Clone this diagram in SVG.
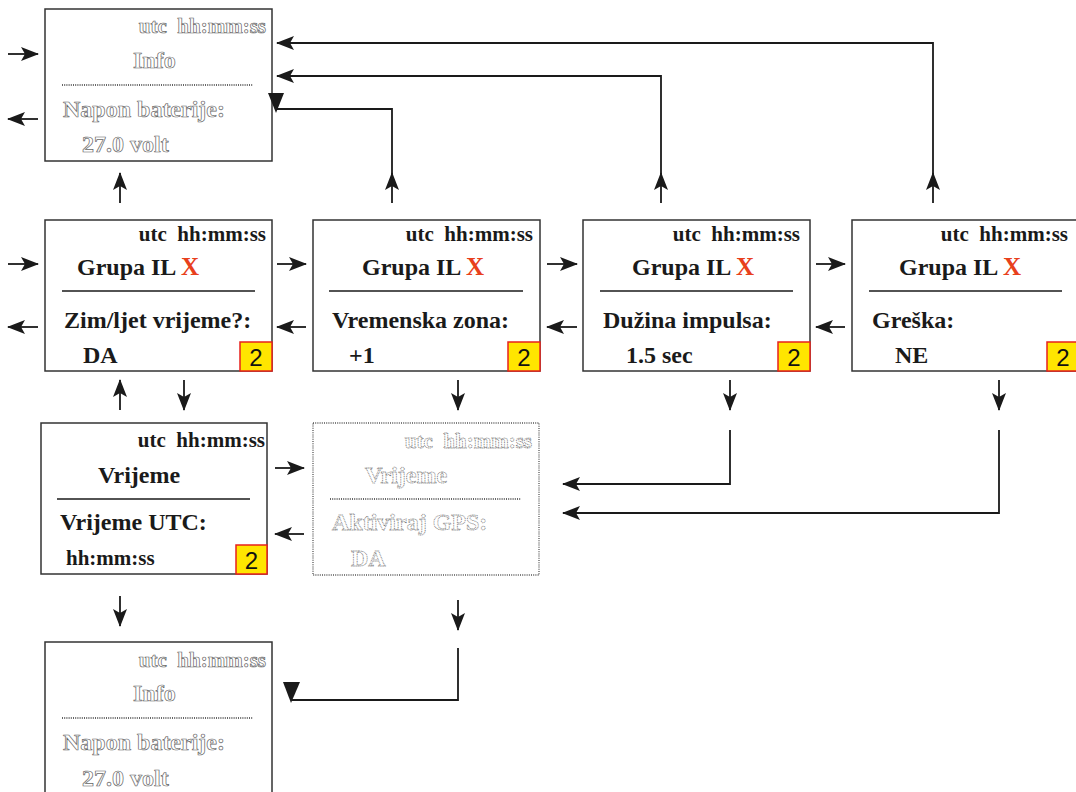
<svg xmlns="http://www.w3.org/2000/svg" width="1076" height="792" viewBox="0 0 1076 792">
<style>
text{font-family:"Liberation Serif","Times New Roman",serif;font-weight:bold;white-space:pre}
.box{fill:#fff;stroke:#333;stroke-width:1.5}
.dbox{fill:#fff;stroke:#555;stroke-width:1.3;stroke-dasharray:1 1.2}
.t{font-size:24px;fill:#1a1a1a}
.s{font-size:21px;fill:#1a1a1a}
.o{font-size:24px;fill:#fff;stroke:#666;stroke-width:0.7}
.os{font-size:21px;fill:#fff;stroke:#666;stroke-width:0.7}
.od{font-size:24px;fill:#fff;stroke:#777;stroke-width:0.8;stroke-dasharray:1 0.7}
.ods{font-size:21px;fill:#fff;stroke:#777;stroke-width:0.8;stroke-dasharray:1 0.7}
.x{fill:#e8401c;font-size:25px}
.sep{stroke:#1a1a1a;stroke-width:1.5}
.dsep{stroke:#333;stroke-width:1.3;stroke-dasharray:1 1.2}
.badge{fill:#ffe500;stroke:#e8201c;stroke-width:1.5}
.bn{font-family:"Liberation Sans",Arial,sans-serif;font-weight:normal;font-size:24px;fill:#111;text-anchor:middle}
.c{fill:none;stroke:#1a1a1a;stroke-width:1.8}
.ah{fill:#1a1a1a}
</style>
<defs>
<marker id="arr" viewBox="0 0 18 14" refX="17" refY="7" markerWidth="18" markerHeight="14" markerUnits="userSpaceOnUse" orient="auto">
<path d="M0,0 L18,7 L0,14 L4,7 z" fill="#1a1a1a"/>
</marker>
</defs>

<g id="info-top">
<rect class="box" x="45" y="9" width="227" height="152"/>
<text class="os" x="266" y="33" text-anchor="end">utc  hh:mm:ss</text>
<text class="o" x="133" y="68">Info</text>
<line class="dsep" x1="62" y1="85" x2="253" y2="85"/>
<text class="o" x="63" y="117">Napon baterije:</text>
<text class="o" x="82" y="152">27.0 volt</text>
</g>

<g id="zim-ljet">
<rect class="box" x="45" y="220" width="227" height="151"/>
<text class="s" x="266" y="241" text-anchor="end">utc  hh:mm:ss</text>
<text class="t" x="77" y="275">Grupa IL <tspan class="x">X</tspan></text>
<line class="sep" x1="62" y1="291" x2="255" y2="291"/>
<text class="t" x="64" y="328">Zim/ljet vrijeme?:</text>
<text class="t" x="83" y="363">DA</text>
<rect class="badge" x="240" y="342" width="32" height="29"/>
<text class="bn" x="256" y="366">2</text>
</g>

<g id="vremenska-zona">
<rect class="box" x="313" y="220" width="227" height="151"/>
<text class="s" x="533" y="241" text-anchor="end">utc  hh:mm:ss</text>
<text class="t" x="362" y="275">Grupa IL <tspan class="x">X</tspan></text>
<line class="sep" x1="329" y1="291" x2="523" y2="291"/>
<text class="t" x="332" y="328">Vremenska zona:</text>
<text class="t" x="349" y="363">+1</text>
<rect class="badge" x="508" y="342" width="32" height="29"/>
<text class="bn" x="524" y="366">2</text>
</g>

<g id="duzina-impulsa">
<rect class="box" x="583" y="220" width="227" height="151"/>
<text class="s" x="800" y="241" text-anchor="end">utc  hh:mm:ss</text>
<text class="t" x="632" y="275">Grupa IL <tspan class="x">X</tspan></text>
<line class="sep" x1="600" y1="291" x2="793" y2="291"/>
<text class="t" x="603" y="328">Dužina impulsa:</text>
<text class="t" x="626" y="363">1.5 sec</text>
<rect class="badge" x="778" y="342" width="32" height="29"/>
<text class="bn" x="794" y="366">2</text>
</g>

<g id="greska">
<rect class="box" x="852" y="220" width="227" height="151"/>
<text class="s" x="1068" y="241" text-anchor="end">utc  hh:mm:ss</text>
<text class="t" x="899" y="275">Grupa IL <tspan class="x">X</tspan></text>
<line class="sep" x1="869" y1="291" x2="1062" y2="291"/>
<text class="t" x="872" y="328">Greška:</text>
<text class="t" x="895" y="363">NE</text>
<rect class="badge" x="1047" y="342" width="32" height="29"/>
<text class="bn" x="1063" y="366">2</text>
</g>

<g id="vrijeme">
<rect class="box" x="41" y="423" width="226" height="151"/>
<text class="s" x="265" y="447" text-anchor="end">utc  hh:mm:ss</text>
<text class="t" x="98" y="483">Vrijeme</text>
<line class="sep" x1="57" y1="499" x2="250" y2="499"/>
<text class="t" x="60" y="530">Vrijeme UTC:</text>
<text class="s" x="66" y="565">hh:mm:ss</text>
<rect class="badge" x="236" y="545" width="31" height="29"/>
<text class="bn" x="251.5" y="569">2</text>
</g>

<g id="vrijeme-gps">
<rect class="dbox" x="313" y="423" width="226" height="152"/>
<text class="ods" x="532" y="448" text-anchor="end">utc  hh:mm:ss</text>
<text class="od" x="365" y="483">Vrijeme</text>
<line class="dsep" x1="330" y1="499" x2="521" y2="499"/>
<text class="od" x="332" y="530">Aktiviraj GPS:</text>
<text class="od" x="351" y="566">DA</text>
</g>

<g id="info-bottom">
<rect class="box" x="45" y="642" width="227" height="160"/>
<text class="os" x="266" y="667" text-anchor="end">utc  hh:mm:ss</text>
<text class="o" x="133" y="701">Info</text>
<line class="dsep" x1="62" y1="718" x2="253" y2="718"/>
<text class="o" x="63" y="750">Napon baterije:</text>
<text class="o" x="82" y="786">27.0 volt</text>
</g>

<g id="connectors">
<line class="c" x1="8" y1="54" x2="38" y2="54" marker-end="url(#arr)"/>
<line class="c" x1="38" y1="119" x2="8" y2="119" marker-end="url(#arr)"/>
<line class="c" x1="8" y1="264" x2="38" y2="264" marker-end="url(#arr)"/>
<line class="c" x1="38" y1="327" x2="8" y2="327" marker-end="url(#arr)"/>
<line class="c" x1="277" y1="264" x2="306" y2="264" marker-end="url(#arr)"/>
<line class="c" x1="306" y1="327" x2="277" y2="327" marker-end="url(#arr)"/>
<line class="c" x1="547" y1="264" x2="577" y2="264" marker-end="url(#arr)"/>
<line class="c" x1="577" y1="327" x2="547" y2="327" marker-end="url(#arr)"/>
<line class="c" x1="816" y1="264" x2="845" y2="264" marker-end="url(#arr)"/>
<line class="c" x1="845" y1="327" x2="816" y2="327" marker-end="url(#arr)"/>
<line class="c" x1="120" y1="203" x2="120" y2="173" marker-end="url(#arr)"/>
<line class="c" x1="392" y1="203" x2="392" y2="173" marker-end="url(#arr)"/>
<path class="c" d="M392,176 V109 H277"/>
<polygon class="ah" points="268,93 284,93 276,113"/>
<line class="c" x1="661" y1="203" x2="661" y2="173" marker-end="url(#arr)"/>
<path class="c" d="M661,176 V76 H277" marker-end="url(#arr)"/>
<line class="c" x1="933" y1="203" x2="933" y2="173" marker-end="url(#arr)"/>
<path class="c" d="M933,176 V43 H277" marker-end="url(#arr)"/>
<line class="c" x1="120" y1="410" x2="120" y2="380" marker-end="url(#arr)"/>
<line class="c" x1="184" y1="380" x2="184" y2="410" marker-end="url(#arr)"/>
<line class="c" x1="458" y1="380" x2="458" y2="410" marker-end="url(#arr)"/>
<line class="c" x1="730" y1="380" x2="730" y2="410" marker-end="url(#arr)"/>
<path class="c" d="M730,430 V484 H563" marker-end="url(#arr)"/>
<line class="c" x1="999" y1="380" x2="999" y2="410" marker-end="url(#arr)"/>
<path class="c" d="M999,430 V513 H563" marker-end="url(#arr)"/>
<line class="c" x1="275" y1="468" x2="304" y2="468" marker-end="url(#arr)"/>
<line class="c" x1="304" y1="534" x2="275" y2="534" marker-end="url(#arr)"/>
<line class="c" x1="120" y1="596" x2="120" y2="626" marker-end="url(#arr)"/>
<line class="c" x1="458" y1="600" x2="458" y2="630" marker-end="url(#arr)"/>
<path class="c" d="M458,648 V700 H292"/>
<polygon class="ah" points="283,682 300,682 291,703"/>
</g>
</svg>
